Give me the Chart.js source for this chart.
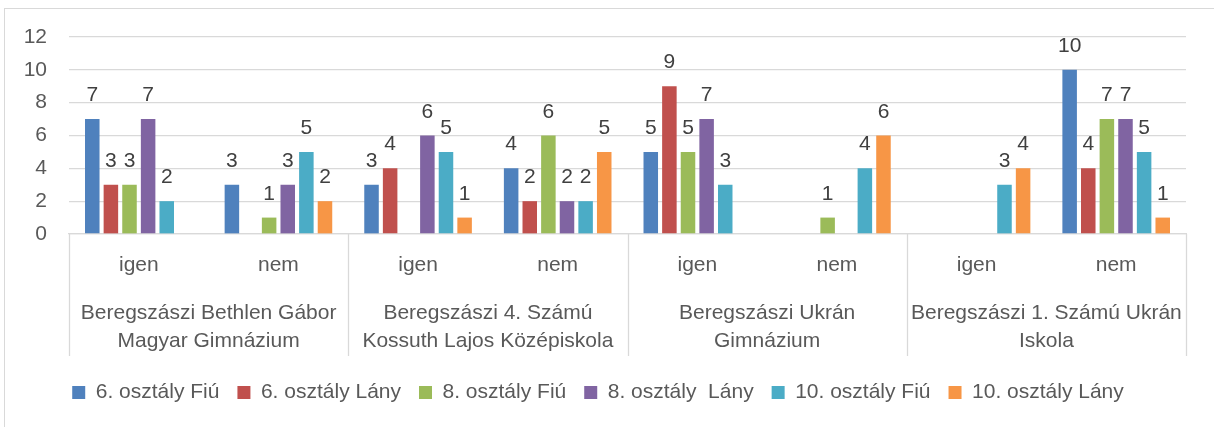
<!DOCTYPE html>
<html lang="hu">
<head>
    <meta charset="UTF-8">
    <title>Iskolák - igen / nem</title>
    <script src="https://cdn.jsdelivr.net/npm/chart.js"></script>
    <style>
        body {
            margin: 0;
            padding: 0;
            background: white;
        }
        #wrap {
            width: 1214px;
            height: 427px;
        }
    </style>
</head>
<body>

    <div id="wrap">
        <canvas id="schoolChart" width="1214" height="427"></canvas>
    </div>

    <script>
        // answers (inner axis level) and schools (outer axis level)
        const answers = ['igen', 'nem', 'igen', 'nem', 'igen', 'nem', 'igen', 'nem'];
        const schools = [
            ['Beregszászi Bethlen Gábor', 'Magyar Gimnázium'],
            ['Beregszászi 4. Számú', 'Kossuth Lajos Középiskola'],
            ['Beregszászi Ukrán', 'Gimnázium'],
            ['Beregszászi 1. Számú Ukrán', 'Iskola']
        ];

        const seriesNames = ['6. osztály Fiú', '6. osztály Lány', '8. osztály Fiú', '8. osztály  Lány', '10. osztály Fiú', '10. osztály Lány'];
        const seriesColors = ['#4F81BD', '#C0504D', '#9BBB59', '#8064A2', '#4BACC6', '#F79646'];

        const fiu6  = [7, 3, 3, 4, 5, null, null, 10];
        const lany6 = [3, null, 4, 2, 9, null, null, 4];
        const fiu8  = [3, 1, null, 6, 5, 1, null, 7];
        const lany8 = [7, 3, 6, 2, 7, null, null, 7];
        const fiu10 = [2, 5, 5, 2, 3, 4, 3, 5];
        const lany10 = [null, 2, 1, 5, null, 6, 4, 1];

        const yTicks = [0, 2, 4, 6, 8, 10, 12];

        const seriesValues = [fiu6, lany6, fiu8, lany8, fiu10, lany10];

        const textColor = '#595959';
        const gridColor = '#d9d9d9';
        const fontFamily = '"Liberation Sans", Arial, sans-serif';
        const fontSize = 21;

        // value labels above the bars
        const valueLabels = {
            id: 'valueLabels',
            afterDatasetsDraw(chart) {
                const ctx = chart.ctx;
                ctx.save();
                ctx.font = fontSize + 'px ' + fontFamily;
                ctx.fillStyle = '#404040';
                ctx.textAlign = 'center';
                ctx.textBaseline = 'alphabetic';
                chart.data.datasets.forEach((ds, i) => {
                    const meta = chart.getDatasetMeta(i);
                    meta.data.forEach((bar, j) => {
                        const v = ds.data[j];
                        if (v === null || v === undefined) return;
                        ctx.fillText(String(v), bar.x, bar.y - 18);
                    });
                });
                ctx.restore();
            }
        };

        // outer frame + the box of the two level category axis
        const axisBox = {
            id: 'axisBox',
            beforeDraw(chart) {
                const ctx = chart.ctx;
                ctx.save();
                ctx.strokeStyle = gridColor;
                ctx.lineWidth = 1;
                ctx.strokeRect(4.5, 8.5, 1220, 430);
                ctx.restore();
            },
            afterDraw(chart) {
                const ctx = chart.ctx;
                const x = chart.scales.x;
                const area = chart.chartArea;
                const top = area.bottom;
                const bottom = area.bottom + 122;
                let edges = [area.left];
                for (let k = 1; k < schools.length; k++) {
                    edges.push((x.getPixelForValue(2 * k - 1) + x.getPixelForValue(2 * k)) / 2);
                }
                edges.push(area.right);
                ctx.save();
                ctx.strokeStyle = gridColor;
                ctx.lineWidth = 1.3;
                edges.forEach(px => {
                    const p = Math.round(px) + 0.5;
                    ctx.beginPath();
                    ctx.moveTo(p, top);
                    ctx.lineTo(p, bottom);
                    ctx.stroke();
                });
                ctx.restore();
            }
        };

        const ctx = document.getElementById('schoolChart').getContext('2d');

        const schoolChart = new Chart(ctx, {
            type: 'bar',
            data: {
                labels: answers,
                datasets: seriesValues.map((vals, i) => ({
                    label: seriesNames[i],
                    data: vals,
                    backgroundColor: seriesColors[i],
                    borderWidth: 0,
                    categoryPercentage: 0.8,
                    barPercentage: 0.78
                }))
            },
            options: {
                responsive: false,
                animation: false,
                devicePixelRatio: 1,
                layout: {
                    padding: { left: 10, right: 28, top: 37, bottom: 14 }
                },
                scales: {
                    y: {
                        min: 0,
                        max: 12,
                        afterFit: (scale) => { scale.width = 59; },
                        afterBuildTicks: (scale) => { scale.ticks = yTicks.map(v => ({ value: v })); },
                        border: { display: false },
                        grid: { color: gridColor, lineWidth: 1.3, drawTicks: false },
                        ticks: {
                            padding: 22,
                            color: textColor,
                            font: { family: fontFamily, size: fontSize }
                        }
                    },
                    x: {
                        afterFit: (scale) => { scale.height = 54; },
                        border: { display: true, color: gridColor, width: 1.3 },
                        grid: { display: false, drawTicks: false },
                        ticks: {
                            padding: 19,
                            color: textColor,
                            font: { family: fontFamily, size: fontSize },
                            maxRotation: 0,
                            autoSkip: false
                        }
                    },
                    x2: {
                        type: 'category',
                        position: 'bottom',
                        labels: schools,
                        offset: true,
                        afterFit: (scale) => { scale.height = 76; },
                        border: { display: false },
                        grid: { display: false, drawTicks: false },
                        ticks: {
                            padding: 11,
                            color: textColor,
                            font: { family: fontFamily, size: fontSize, lineHeight: 28 / fontSize },
                            maxRotation: 0,
                            autoSkip: false
                        }
                    }
                },
                plugins: {
                    legend: {
                        position: 'bottom',
                        labels: {
                            color: textColor,
                            font: { family: fontFamily, size: fontSize },
                            boxWidth: 13,
                            boxHeight: 13,
                            padding: 18
                        }
                    },
                    tooltip: { enabled: false }
                }
            },
            plugins: [valueLabels, axisBox]
        });
    </script>

</body>
</html>
